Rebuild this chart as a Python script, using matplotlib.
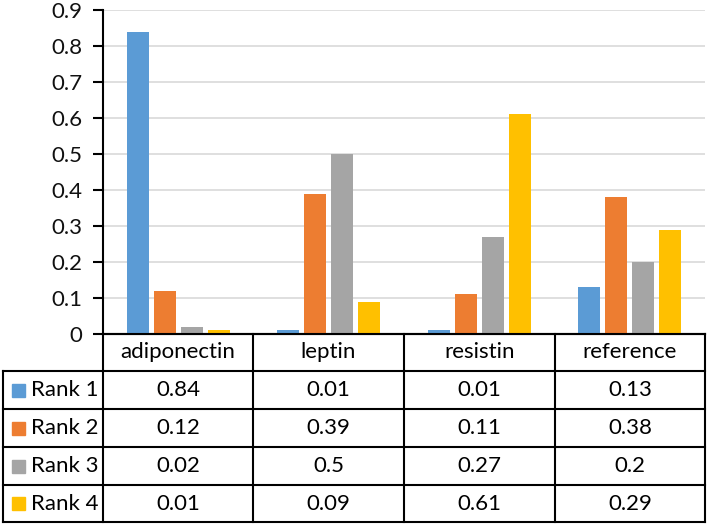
import numpy as np
import matplotlib.pyplot as plt
from matplotlib.patches import Rectangle

plt.rcParams['font.family'] = ['Lato', 'DejaVu Sans']

categories = ["adiponectin", "leptin", "resistin", "reference"]
series = ["Rank 1", "Rank 2", "Rank 3", "Rank 4"]
rank1 = [0.84, 0.01, 0.01, 0.13]
rank2 = [0.12, 0.39, 0.11, 0.38]
rank3 = [0.02, 0.5, 0.27, 0.2]
rank4 = [0.01, 0.09, 0.61, 0.29]
yticks = [0, 0.1, 0.2, 0.3, 0.4, 0.5, 0.6, 0.7, 0.8, 0.9]

colors = ["#5B9BD5", "#ED7D31", "#A5A5A5", "#FFC000"]
values = [rank1, rank2, rank3, rank4]
fs = 16

W, H = 709, 527
fig = plt.figure(figsize=(W / 100, H / 100), dpi=100)

# axes placed in pixel coordinates
ax_l, ax_r, ax_t, ax_b = 103, 705, 10, 334
ax = fig.add_axes([ax_l / W, 1 - ax_b / H, (ax_r - ax_l) / W, (ax_b - ax_t) / H])

x = np.arange(len(categories))
step = 0.18
width = 0.145
for i, (vals, c) in enumerate(zip(values, colors)):
    ax.bar(x + (i - 1.5) * step, vals, width=width, color=c, zorder=3)

ax.set_xlim(-0.5, len(categories) - 0.5)
ax.set_ylim(0, 0.9)
ax.set_yticks(yticks)
ax.set_yticklabels([f"{t:g}" for t in yticks], fontsize=fs)
ax.yaxis.grid(True, color="#D9D9D9", lw=1.2, zorder=0)
ax.set_xticks([])
for s in ["top", "right"]:
    ax.spines[s].set_visible(False)
ax.spines["left"].set_linewidth(1.5)
ax.spines["bottom"].set_linewidth(1.5)
ax.tick_params(axis="y", direction="out", length=7, width=1.5, pad=8, labelcolor="#111111")

# data table below the plot, in pixel coordinates
def px(xp, yp):
    return xp / W, 1 - yp / H

rows_y = [334, 371, 409, 447, 485, 522]
cols_x = [103, 253, 404, 555, 705]
lab_l = 3
lw = 1.5

def hline(y, x0, x1):
    fig.add_artist(plt.Line2D([x0 / W, x1 / W], [1 - y / H, 1 - y / H], color="black", lw=lw))

def vline(xp, y0, y1):
    fig.add_artist(plt.Line2D([xp / W, xp / W], [1 - y0 / H, 1 - y1 / H], color="black", lw=lw))

hline(rows_y[0], cols_x[0], cols_x[-1])
for y in rows_y[1:]:
    hline(y, lab_l, cols_x[-1])
for xc in cols_x:
    vline(xc, rows_y[0], rows_y[-1])
vline(lab_l, rows_y[1], rows_y[-1])

for j, cat in enumerate(categories):
    cx = (cols_x[j] + cols_x[j + 1]) / 2
    cy = (rows_y[0] + rows_y[1]) / 2
    fig.text(*px(cx, cy), cat, ha="center", va="center", fontsize=fs)

for i, (name, vals, c) in enumerate(zip(series, values, colors)):
    cy = (rows_y[i + 1] + rows_y[i + 2]) / 2
    fig.add_artist(Rectangle(px(12, cy + 6.5), 13 / W, 13 / H, color=c, transform=fig.transFigure))
    fig.text(*px(31, cy), name, ha="left", va="center", fontsize=fs)
    for j, v in enumerate(vals):
        cx = (cols_x[j] + cols_x[j + 1]) / 2
        fig.text(*px(cx, cy), f"{v:g}", ha="center", va="center", fontsize=fs)

plt.savefig("out.png", dpi=100)
